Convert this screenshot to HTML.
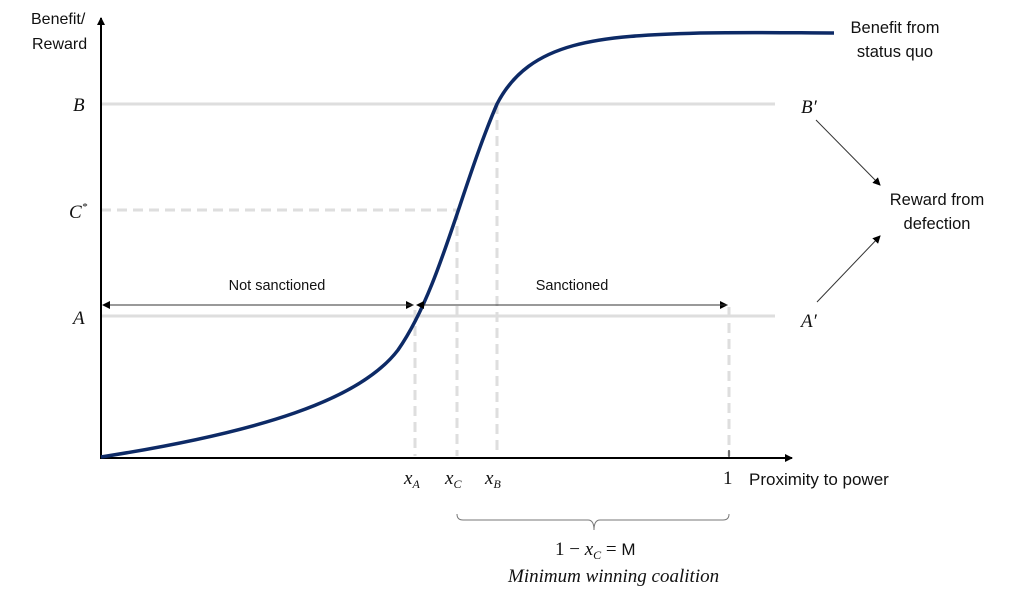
<!DOCTYPE html>
<html><head><meta charset="utf-8"><style>
body{margin:0;background:#fff;}
svg{display:block;font-family:"Liberation Sans",sans-serif;}
.t{fill:#111;}
.m{font-family:"Liberation Serif",serif;font-style:italic;font-size:19px;fill:#111;}
</style></head><body>
<svg width="1023" height="594" viewBox="0 0 1023 594" xmlns="http://www.w3.org/2000/svg">
<defs>
<marker id="ah" markerWidth="8" markerHeight="8" refX="7" refY="4" orient="auto" markerUnits="userSpaceOnUse"><path d="M0,0 L8,4 L0,8 z" fill="#000"/></marker>
</defs>
<line x1="101" y1="104" x2="775" y2="104" stroke="#dedede" stroke-width="3"/>
<line x1="101" y1="316" x2="775" y2="316" stroke="#dedede" stroke-width="3"/>
<line x1="101" y1="210" x2="457" y2="210" stroke="#dedede" stroke-width="3" stroke-dasharray="10,6"/>
<g stroke="#dedede" stroke-width="3" stroke-dasharray="10,6">
<line x1="415" y1="310" x2="415" y2="456"/>
<line x1="457" y1="210" x2="457" y2="456"/>
<line x1="497" y1="104" x2="497" y2="456"/>
<line x1="729" y1="307" x2="729" y2="456"/>
</g>
<line x1="101" y1="459" x2="101" y2="18" stroke="#000" stroke-width="2" marker-end="url(#ah)"/>
<line x1="100" y1="458" x2="792" y2="458" stroke="#000" stroke-width="2" marker-end="url(#ah)"/>
<line x1="729" y1="450" x2="729" y2="458" stroke="#000" stroke-width="1"/>
<path d="M101,457 C260,432 360,400 398,350 C440,290 460,190 497,104 C530,40 600,36 700,33 C760,32 800,33 834,33" fill="none" stroke="#0d2a66" stroke-width="3.5"/>
<line x1="103" y1="305" x2="413" y2="305" stroke="#333" stroke-width="1" marker-end="url(#ah)"/>
<line x1="413" y1="305" x2="103" y2="305" stroke="#333" stroke-width="1" marker-end="url(#ah)"/>
<line x1="417" y1="305" x2="727" y2="305" stroke="#333" stroke-width="1" marker-end="url(#ah)"/>
<line x1="727" y1="305" x2="417" y2="305" stroke="#333" stroke-width="1" marker-end="url(#ah)"/>
<text class="t" x="277" y="290" text-anchor="middle" font-size="14.5">Not sanctioned</text>
<text class="t" x="572" y="290" text-anchor="middle" font-size="14.5">Sanctioned</text>
<line x1="816" y1="120" x2="880" y2="185" stroke="#333" stroke-width="1" marker-end="url(#ah)"/>
<line x1="817" y1="302" x2="880" y2="236" stroke="#333" stroke-width="1" marker-end="url(#ah)"/>
<path d="M457,514 Q457,520 463,520 L588,520 Q594,520 594,530 Q594,520 600,520 L723,520 Q729,520 729,514" fill="none" stroke="#777" stroke-width="1"/>
<text class="t" x="31" y="24" font-size="16">Benefit/</text>
<text class="t" x="32" y="49" font-size="16">Reward</text>
<text class="m" x="73" y="111">B</text>
<text class="m" x="69" y="218">C<tspan font-size="11" dy="-8">*</tspan></text>
<text class="m" x="73" y="324">A</text>
<text class="m" x="801" y="113">B′</text>
<text class="m" x="801" y="327">A′</text>
<text class="t" x="895" y="33" text-anchor="middle" font-size="16.5">Benefit from</text>
<text class="t" x="895" y="57" text-anchor="middle" font-size="16.5">status quo</text>
<text class="t" x="937" y="205" text-anchor="middle" font-size="16.5">Reward from</text>
<text class="t" x="937" y="229" text-anchor="middle" font-size="16.5">defection</text>
<text class="m" x="404" y="484">x<tspan font-size="12" dy="4">A</tspan></text>
<text class="m" x="445" y="484">x<tspan font-size="12" dy="4">C</tspan></text>
<text class="m" x="485" y="484">x<tspan font-size="12" dy="4">B</tspan></text>
<text class="t" x="723" y="484" font-size="19" font-family="Liberation Serif">1</text>
<text class="t" x="749" y="485" font-size="17">Proximity to power</text>
<text class="t" x="555" y="555" font-size="19" font-family="Liberation Serif">1 − <tspan font-style="italic">x</tspan><tspan font-style="italic" font-size="12" dy="4">C</tspan><tspan dy="-4"> = </tspan><tspan font-family="Liberation Sans" font-size="17">M</tspan></text>
<text class="m" x="508" y="582" font-size="19">Minimum winning coalition</text>
</svg>
</body></html>
